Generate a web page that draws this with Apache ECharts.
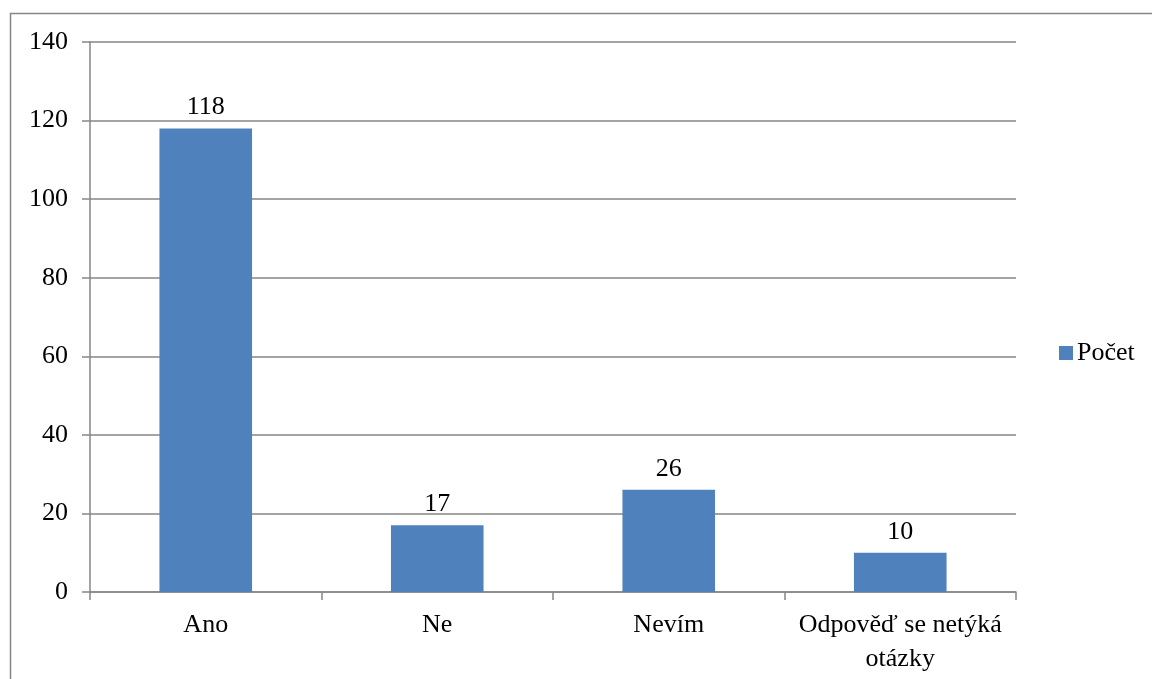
<!DOCTYPE html>
<html><head><meta charset="utf-8">
<script src="https://cdn.jsdelivr.net/npm/echarts@6/dist/echarts.min.js"></script>
<style>html,body{margin:0;padding:0;background:#fff}#c{width:1152px;height:679px}</style>
</head><body><div id="c"></div>
<script>
const categories = ['Ano', 'Ne', 'Nevím', 'Odpověď se netýká\notázky'];
const seriesName = 'Počet';
const values = [118, 17, 26, 10];
const yTicks = [0, 20, 40, 60, 80, 100, 120, 140];

const font = 'Liberation Serif, Times New Roman, serif';
const chart = echarts.init(document.getElementById('c'));
chart.setOption({
  animation: false,
  textStyle: { fontFamily: font },
  graphic: [{ type: 'rect', shape: { x: 10.5, y: 13.5, width: 1200, height: 700 }, style: { fill: 'none', stroke: '#868686', lineWidth: 1.5 } }],
  legend: {
    data: [seriesName], left: 1054, top: 335, orient: 'vertical',
    itemWidth: 14, itemHeight: 14, itemGap: 4, icon: 'rect',
    textStyle: { fontFamily: font, fontSize: 26, color: '#000', padding: [0,0,0,-1] }
  },
  grid: { left: 90, right: 136, top: 42, bottom: 87, containLabel: false },
  xAxis: {
    type: 'category', data: categories,
    axisLine: { lineStyle: { color: '#868686', width: 1.5 } },
    axisTick: { show: true, interval: 0, length: 8, lineStyle: { color: '#868686', width: 1.5 } },
    axisLabel: { interval: 0, hideOverlap: false, fontFamily: font, fontSize: 26, color: '#000', margin: 16, lineHeight: 34 }
  },
  yAxis: {
    type: 'value', min: yTicks[0], max: yTicks[yTicks.length-1], interval: 20,
    axisLine: { show: true, lineStyle: { color: '#868686', width: 1.5 } },
    axisTick: { show: true, length: 8, lineStyle: { color: '#868686', width: 1.5 } },
    splitLine: { lineStyle: { color: '#868686', width: 1.5 } },
    axisLabel: { fontFamily: font, fontSize: 26, color: '#000', margin: 22 }
  },
  series: [{
    name: seriesName, type: 'bar', data: values, barWidth: '40%',
    itemStyle: { color: '#4F81BD' },
    label: { show: true, position: 'top', distance: 8, fontFamily: font, fontSize: 26, color: '#000' }
  }]
});
</script></body></html>
